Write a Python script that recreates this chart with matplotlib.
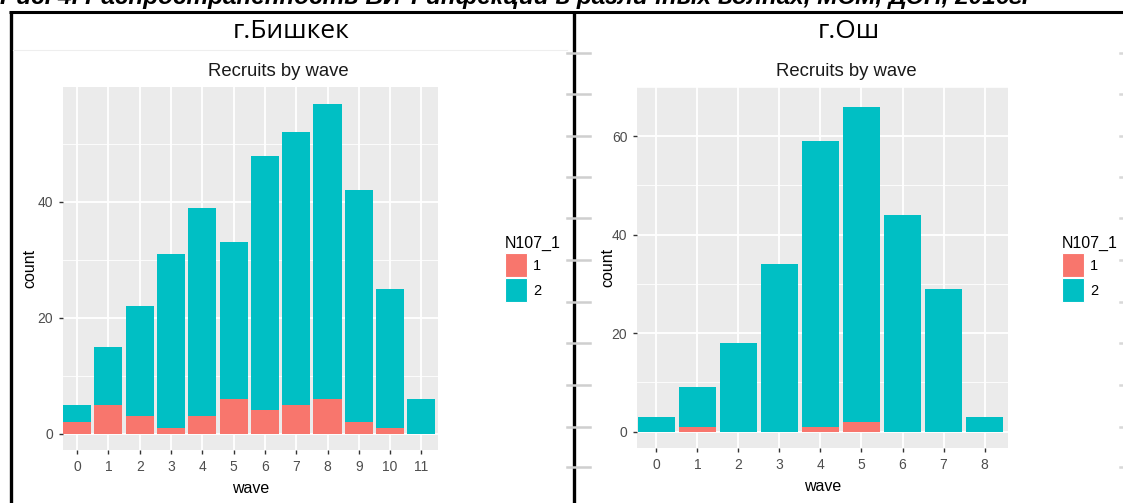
import matplotlib
matplotlib.use("Agg")
import matplotlib.pyplot as plt
from matplotlib.lines import Line2D
from matplotlib.patches import Rectangle
import numpy as np

# ---------- data ----------
bishkek_waves = [0, 1, 2, 3, 4, 5, 6, 7, 8, 9, 10, 11]
bishkek_pos = [2, 5, 3, 1, 3, 6, 4, 5, 6, 2, 1, 0]       # N107_1 == 1
bishkek_neg = [3, 10, 19, 30, 36, 27, 44, 47, 51, 40, 24, 6]  # N107_1 == 2

osh_waves = [0, 1, 2, 3, 4, 5, 6, 7, 8]
osh_pos = [0, 1, 0, 0, 1, 2, 0, 0, 0]
osh_neg = [3, 8, 18, 34, 58, 64, 44, 29, 3]

bishkek_yticks = [0, 20, 40]
osh_yticks = [0, 20, 40, 60]
legend_labels = ["1", "2"]

RED = "#F8766D"
TEAL = "#00BFC4"
W, H = 1123, 503
SANS = ["Liberation Sans", "DejaVu Sans"]


def fx(x):
    return x / W


def fy(y):
    return 1 - y / H


fig = plt.figure(figsize=(W / 100, H / 100), dpi=100)
fig.patch.set_facecolor("white")

# ---------- caption (cut off at top edge, as in the source) ----------
fig.text(fx(0), fy(4), "Рис. 4. Распространенность ВИЧ-инфекции в различных волнах, МСМ, ДЭН, 2016г.",
         fontsize=17.6, fontweight="bold", fontstyle="italic", family=SANS,
         ha="left", va="baseline", color="black")

# ---------- table frame ----------
frame_kw = dict(color="black", transform=fig.transFigure, solid_capstyle="butt")
fig.add_artist(Line2D([fx(9), fx(W)], [fy(12), fy(12)], lw=2.2, **frame_kw))
fig.add_artist(Line2D([fx(11), fx(11)], [fy(11), fy(H)], lw=2.4, **frame_kw))
fig.add_artist(Line2D([fx(574), fx(574)], [fy(11), fy(H)], lw=2.4, **frame_kw))
fig.add_artist(Line2D([fx(13), fx(567)], [fy(50), fy(50)], lw=0.8, color="#eeeeee",
                      transform=fig.transFigure))

# grey stub marks left over from the screenshot
for yy in [53, 94, 136, 177, 218, 260, 302, 343, 385, 427, 467]:
    fig.add_artist(Line2D([fx(567), fx(590)], [fy(yy), fy(yy)], lw=1.8, color="#cfcfcf",
                          transform=fig.transFigure))
    fig.add_artist(Line2D([fx(1120), fx(1123)], [fy(yy), fy(yy)], lw=1.8, color="#d8d8d8",
                          transform=fig.transFigure))

fig.text(fx(291), fy(31), "г.Бишкек", fontsize=19, family=["Open Sans", "DejaVu Sans"],
         ha="center", va="center", color="black")
fig.text(fx(849), fy(31), "г.Ош", fontsize=19, family=["Open Sans", "DejaVu Sans"],
         ha="center", va="center", color="black")


def panel(rect, waves, pos, neg, yticks, xlim, ylab_x, legend_x, title_x):
    x0, y0, x1, y1 = rect
    ax = fig.add_axes([fx(x0), fy(y1), fx(x1 - x0), (y1 - y0) / H])
    ax.set_facecolor("#EBEBEB")
    waves = np.array(waves)
    pos = np.array(pos)
    neg = np.array(neg)
    tot = pos + neg
    ax.bar(waves, pos, width=0.9, color=RED, linewidth=0, zorder=3)
    ax.bar(waves, neg, width=0.9, bottom=pos, color=TEAL, linewidth=0, zorder=3)

    ymax = tot.max()
    ax.set_ylim(-0.05 * ymax, 1.05 * ymax)
    ax.set_xlim(*xlim)
    ax.set_xticks(waves)
    ax.set_xticklabels([str(w) for w in waves])
    ax.set_yticks(yticks)
    ax.set_yticks([t + 10 for t in yticks], minor=True)
    ax.grid(which="major", color="white", lw=1.3, zorder=1)
    ax.grid(which="minor", axis="y", color="white", lw=0.6, zorder=1)
    for s in ax.spines.values():
        s.set_visible(False)
    ax.tick_params(which="major", length=3, width=1, color="#333333", labelcolor="#4d4d4d",
                   labelsize=10, pad=4)
    ax.tick_params(which="minor", length=0)
    for lbl in ax.get_xticklabels() + ax.get_yticklabels():
        lbl.set_family(SANS)
    ax.set_xlabel("wave", fontsize=11.5, family=SANS, color="black", labelpad=5)
    fig.text(fx(ylab_x), fy((y0 + y1) / 2), "count", rotation=90, fontsize=11.5,
             family=SANS, ha="center", va="center", color="black")
    fig.text(fx(title_x), fy(71), "Recruits by wave", fontsize=13.3, family=SANS,
             ha="center", va="center", color="#1a1a1a")

    # legend, ggplot style
    fig.text(fx(legend_x), fy(243), "N107_1", fontsize=11.5, family=SANS,
             ha="left", va="center", color="black")
    for i, (lab, col) in enumerate(zip(legend_labels, [RED, TEAL])):
        top = 253 + i * 25
        fig.add_artist(Rectangle((fx(legend_x), fy(top + 24)), fx(22), 24 / H,
                                 facecolor=col, edgecolor="white", lw=0.8,
                                 transform=fig.transFigure))
        fig.text(fx(legend_x + 28), fy(top + 13), lab, fontsize=10.5, family=SANS,
                 ha="left", va="center", color="black")
    return ax


panel((63, 87, 438, 450), bishkek_waves, bishkek_pos, bishkek_neg, bishkek_yticks,
      xlim=(-0.45, 11.53), ylab_x=30, legend_x=505, title_x=278)
panel((637, 87, 1008, 448), osh_waves, osh_pos, osh_neg, osh_yticks,
      xlim=(-0.47, 8.57), ylab_x=608, legend_x=1062, title_x=846)

fig.savefig("out.png", dpi=100, facecolor="white")
